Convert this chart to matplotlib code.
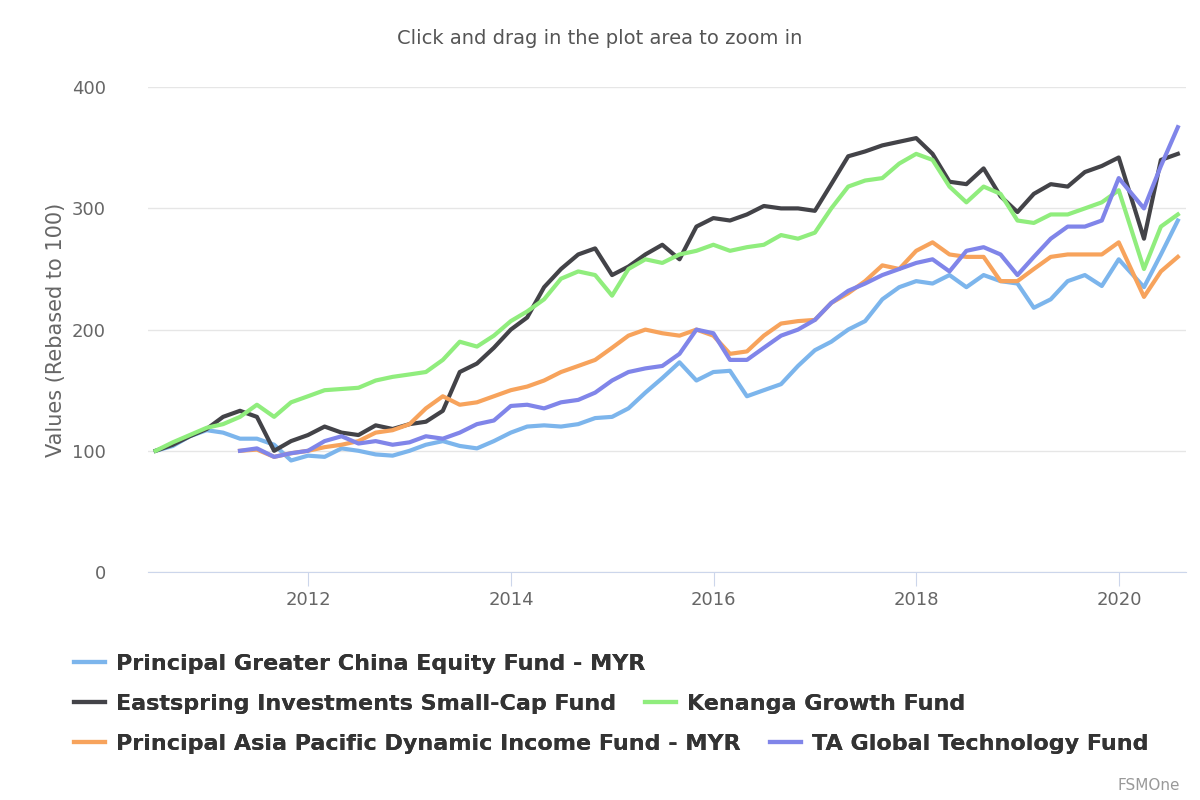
import pandas as pd
import matplotlib.pyplot as plt
import matplotlib.dates as mdates

# bimonthly month-end points, then the 2020 crash months
dates = list(pd.date_range("2010-06-30", "2019-12-31", freq="2ME")) + \
    list(pd.to_datetime(["2020-03-31", "2020-05-31", "2020-07-31"]))

greater_china = [100, 104, 112, 117, 115, 110, 110, 105, 92, 96, 95, 102, 100, 97, 96, 100,
                 105, 108, 104, 102, 108, 115, 120, 121, 120, 122, 127, 128, 135, 148, 160,
                 173, 158, 165, 166, 145, 150, 155, 170, 183, 190, 200, 207, 225, 235, 240,
                 238, 245, 235, 245, 240, 238, 218, 225, 240, 245, 236, 258, 235, 262, 290]
eastspring = [100, 105, 112, 118, 128, 133, 128, 100, 108, 113, 120, 115, 113, 121, 118, 122,
              124, 133, 165, 172, 185, 200, 210, 235, 250, 262, 267, 245, 252, 262, 270,
              258, 285, 292, 290, 295, 302, 300, 300, 298, 320, 343, 347, 352, 355, 358,
              345, 322, 320, 333, 310, 297, 312, 320, 318, 330, 335, 342, 275, 340, 345]
kenanga = [100, 107, 113, 119, 122, 128, 138, 128, 140, 145, 150, 151, 152, 158, 161, 163,
           165, 175, 190, 186, 195, 207, 215, 225, 242, 248, 245, 228, 250, 258, 255,
           262, 265, 270, 265, 268, 270, 278, 275, 280, 300, 318, 323, 325, 337, 345,
           340, 318, 305, 318, 312, 290, 288, 295, 295, 300, 305, 315, 250, 285, 295]
asia_pacific = [None] * 5 + [100, 101, 95, 98, 100, 103, 105, 108, 115, 117, 122, 135, 145,
                138, 140, 145, 150, 153, 158, 165, 170, 175, 185, 195, 200, 197, 195, 200,
                195, 180, 182, 195, 205, 207, 208, 222, 230, 240, 253, 250, 265, 272, 262,
                260, 260, 240, 240, 250, 260, 262, 262, 262, 272, 227, 248, 260]
ta_tech = [None] * 5 + [100, 102, 95, 98, 100, 108, 112, 106, 108, 105, 107, 112, 110,
           115, 122, 125, 137, 138, 135, 140, 142, 148, 158, 165, 168, 170, 180, 200,
           197, 175, 175, 185, 195, 200, 208, 222, 232, 238, 245, 250, 255, 258, 248,
           265, 268, 262, 245, 260, 275, 285, 285, 290, 325, 300, 335, 367]

series = [
    ("Principal Greater China Equity Fund - MYR", greater_china, "#7cb5ec"),
    ("Eastspring Investments Small-Cap Fund", eastspring, "#434348"),
    ("Kenanga Growth Fund", kenanga, "#90ed7d"),
    ("Principal Asia Pacific Dynamic Income Fund - MYR", asia_pacific, "#f7a35c"),
    ("TA Global Technology Fund", ta_tech, "#8085e9"),
]

fig = plt.figure(figsize=(12, 8), dpi=100)
ax = fig.add_axes([0.123, 0.285, 0.865, 0.606])
handles = {}
for name, vals, col in series:
    s = pd.Series(vals, index=dates, dtype=float)
    ln, = ax.plot(s.index, s.values, color=col, lw=3)
    handles[name] = ln

ax.set_ylim(0, 400)
ax.set_yticks([0, 100, 200, 300, 400])
ax.set_xlim(pd.Timestamp("2010-06-01"), pd.Timestamp("2020-08-28"))
ax.xaxis.set_major_locator(mdates.YearLocator(2))
ax.xaxis.set_major_formatter(mdates.DateFormatter("%Y"))
ax.grid(axis="y", color="#e6e6e6", lw=1)
ax.set_axisbelow(True)
for sp in ["top", "right", "left"]:
    ax.spines[sp].set_visible(False)
ax.spines["bottom"].set_color("#ccd6eb")
ax.tick_params(axis="x", colors="#ccd6eb", labelcolor="#666666", labelsize=13, length=10)
ax.tick_params(axis="y", length=0, labelcolor="#666666", labelsize=13, pad=30)
ax.set_ylabel("Values (Rebased to 100)", color="#666666", fontsize=15)

fig.text(0.5, 0.945, "Click and drag in the plot area to zoom in", ha="center",
         color="#555555", fontsize=14)
fig.text(0.983, 0.012, "FSMOne", ha="right", color="#999999", fontsize=11)

rows = [(0.17, [series[0][0]]), (0.12, [series[1][0], series[2][0]]),
        (0.07, [series[3][0], series[4][0]])]
for y, names in rows:
    leg = fig.legend([handles[n] for n in names], names, loc="center left",
                     bbox_to_anchor=(0.045, y), ncol=len(names), frameon=False,
                     prop={"weight": "bold", "size": 16}, handlelength=1.4,
                     columnspacing=1.3, handletextpad=0.5)
    for t in leg.get_texts():
        t.set_color("#333333")
    fig.add_artist(leg)

fig.savefig("out.png")
